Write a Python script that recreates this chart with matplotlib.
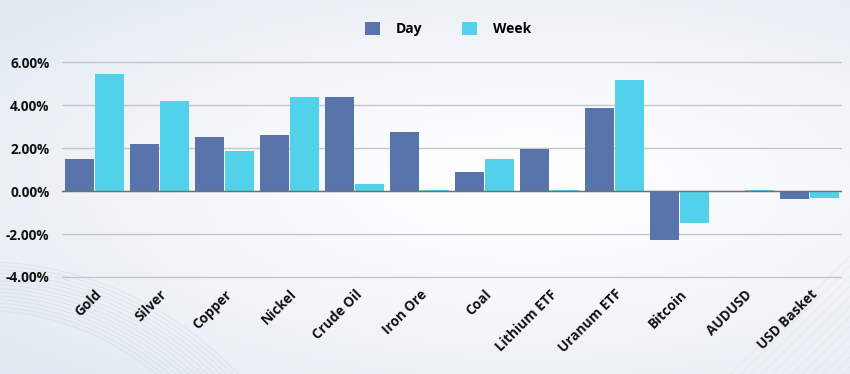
import numpy as np
import matplotlib.pyplot as plt
from matplotlib.ticker import FuncFormatter

# данные
categories = ["Gold", "Silver", "Copper", "Nickel", "Crude Oil", "Iron Ore", "Coal",
              "Lithium ETF", "Uranum ETF", "Bitcoin", "AUDUSD", "USD Basket"]
day = [1.50, 2.20, 2.52, 2.62, 4.40, 2.74, 0.88, 1.95, 3.86, -2.28, 0.01, -0.37]
week = [5.45, 4.20, 1.87, 4.37, 0.33, 0.04, 1.49, 0.04, 5.15, -1.50, 0.04, -0.31]

plt.rcParams['font.family'] = ['Open Sans', 'DejaVu Sans']
plt.rcParams['font.weight'] = 'bold'

fig = plt.figure(figsize=(8.5, 3.74), dpi=100)

# фон с лёгким градиентом
bg = fig.add_axes([0, 0, 1, 1], zorder=-10)
yy, xx = np.mgrid[0:1:200j, 0:1:400j]
r = np.sqrt(((xx - 0.62) / 0.85) ** 2 + ((yy - 0.5) / 0.75) ** 2)
t = np.clip(r, 0, 1) ** 1.3
c0 = np.array([1.0, 1.0, 1.0])
c1 = np.array([0.88, 0.91, 0.945])
img = c0 * (1 - t[..., None]) + c1 * t[..., None]
bg.imshow(img, extent=[0, 1, 0, 1], aspect='auto', origin='lower')
# декоративные линии в нижних углах
th = np.linspace(0, np.pi / 2, 100)
for k in range(14):
    rr = 0.36 + k * 0.006
    bg.plot(-0.02 + rr * np.cos(th), -0.8 + (0.97 + k * 0.01) * np.sin(th),
            color='#c9d3de', lw=0.6, alpha=0.45)
for k in range(16):
    s = 0.86 + k * 0.012
    bg.plot([s, s + 0.2], [0.0, 0.45], color='#dfe5ec', lw=0.7, alpha=0.6)
bg.set_xlim(0, 1)
bg.set_ylim(0, 1)
bg.axis('off')

ax = fig.add_axes([0.073, 0.245, 0.918, 0.609])
ax.patch.set_alpha(0)

x = np.arange(len(categories))
w = 0.445
ax.bar(x - w / 2 - 0.008, day, w, color='#5874aa', label='Day', zorder=3)
ax.bar(x + w / 2 + 0.008, week, w, color='#52d1eb', label='Week', zorder=3)

ax.set_xlim(-0.5, len(categories) - 0.5)
ax.set_ylim(-4.25, 6.35)
ax.set_yticks([-4, -2, 0, 2, 4, 6])
ax.yaxis.set_major_formatter(FuncFormatter(lambda v, p: f"{v:.2f}%"))
ax.grid(axis='y', color='#c3c7cc', lw=1, zorder=0)
ax.axhline(0, color='#707070', lw=1, zorder=4)

for s in ax.spines.values():
    s.set_visible(False)
ax.tick_params(axis='both', length=0, labelsize=9.8, colors='#111111')
ax.tick_params(axis='y', pad=9)
ax.set_xticks(x)
ax.set_xticklabels(categories, rotation=45, ha='right', rotation_mode='anchor')
for lbl in ax.get_xticklabels():
    lbl.set_fontweight('bold')
for lbl in ax.get_yticklabels():
    lbl.set_fontweight('bold')

fig.legend(loc='upper center', bbox_to_anchor=(0.527, 0.975), ncol=2, frameon=False,
           handlelength=1.1, handleheight=1.1, columnspacing=2.9, handletextpad=1.1,
           prop={'weight': 'bold', 'size': 10})

plt.savefig('out.png', dpi=100)
